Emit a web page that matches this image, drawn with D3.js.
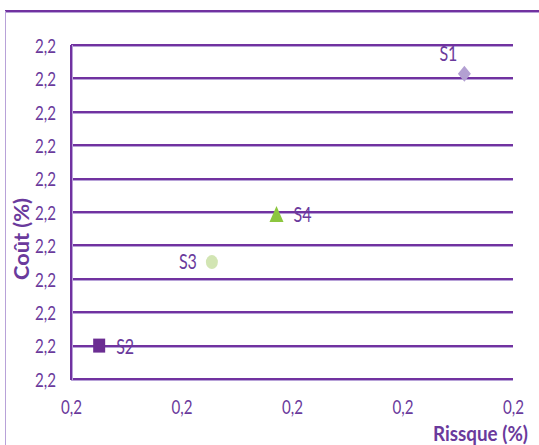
<!DOCTYPE html>
<html><head><meta charset="utf-8">
<script src="https://cdn.jsdelivr.net/npm/d3@7"></script>
<style>body{margin:0;background:#fff}svg{display:block}text{font-family:Lato,"Open Sans",sans-serif}</style>
</head><body><svg id="c" width="539" height="445"></svg>
<script>
const names = ["S1","S2","S3","S4"];
const risk = [0.2312,0.1651,0.1855,0.1972];
const cost = [2.2331,2.1680,2.1880,2.1995];
const shapes = ["diamond","square","circle","triangle"];
const colors = ["#b3a0d2","#6b2d92","#d2e5b3","#8cc63f"];
const labelPos = ["above","right","left","right"];
const xTicks = [0.16,0.18,0.20,0.22,0.24];
const yTicks = [2.16,2.168,2.176,2.184,2.192,2.2,2.208,2.216,2.224,2.232,2.24];
const xTitle = "Rissque (%)", yTitle = "Coût (%)";

const svg = d3.select("#c");
const purple = "#7132a0", light = "#b8a2d8", txt = "#6a3a9c";
const x = d3.scaleLinear().domain([0.16,0.24]).range([71,513]);
const y = d3.scaleLinear().domain([2.16,2.24]).range([379,45]);
const fmt = v => v.toFixed(1).replace(".", ",");

// outer frame
svg.append("line").attr("x1",5).attr("x2",539).attr("y1",11).attr("y2",11).attr("stroke",purple).attr("stroke-width",2);
svg.append("line").attr("x1",5).attr("x2",539).attr("y1",12.5).attr("y2",12.5).attr("stroke",light).attr("stroke-width",1);
svg.append("line").attr("x1",5.5).attr("x2",5.5).attr("y1",11).attr("y2",445).attr("stroke",light).attr("stroke-width",1);

// gridlines
yTicks.forEach(t=>{
  const yy = Math.round(y(t));
  svg.append("line").attr("x1",71).attr("x2",513).attr("y1",yy).attr("y2",yy).attr("stroke",purple).attr("stroke-width",2);
  svg.append("line").attr("x1",71).attr("x2",513).attr("y1",yy+1.5).attr("y2",yy+1.5).attr("stroke",light).attr("stroke-width",1);
});
// y axis line
svg.append("line").attr("x1",71).attr("x2",71).attr("y1",45).attr("y2",380).attr("stroke",purple).attr("stroke-width",2);
svg.append("line").attr("x1",72.5).attr("x2",72.5).attr("y1",45).attr("y2",380).attr("stroke",light).attr("stroke-width",1);

// axis labels
const yAxis = d3.axisLeft(y).tickValues(yTicks).tickFormat(fmt).tickSize(0).tickPadding(15);
const ga = svg.append("g").attr("transform","translate(71,0)").call(yAxis);
ga.select(".domain").remove();
ga.selectAll("text").attr("font-size",20).attr("fill",txt).attr("font-family","Lato,sans-serif")
  .attr("dy","0.36em").attr("textLength",21).attr("lengthAdjust","spacingAndGlyphs");

const xAxis = d3.axisBottom(x).tickValues(xTicks).tickFormat(fmt).tickSize(0);
const gx = svg.append("g").attr("transform","translate(0,379)").call(xAxis);
gx.select(".domain").remove();
gx.selectAll("text").attr("font-size",20).attr("fill",txt).attr("font-family","Lato,sans-serif")
  .attr("y",35).attr("dy",0).attr("textLength",21).attr("lengthAdjust","spacingAndGlyphs");

// titles
svg.append("text").attr("x",528).attr("y",441).attr("text-anchor","end").attr("font-size",20).attr("font-weight","bold").attr("fill",txt)
  .attr("textLength",95).attr("lengthAdjust","spacingAndGlyphs").text(xTitle);
svg.append("text").attr("transform","translate(29,239) rotate(-90)").attr("text-anchor","middle").attr("font-size",21).attr("font-weight","bold").attr("fill",txt)
  .attr("textLength",82).attr("lengthAdjust","spacingAndGlyphs").text(yTitle);

// marker shapes (w x h)
const dims = {diamond:[13,16], square:[12,14], circle:[12,14], triangle:[14,16]};
function shapePath(s){
  const [w,h] = dims[s], p = d3.path();
  if(s==="diamond"){p.moveTo(0,-h/2);p.lineTo(w/2,0);p.lineTo(0,h/2);p.lineTo(-w/2,0);p.closePath();}
  else if(s==="square"){p.rect(-w/2,-h/2,w,h);}
  else if(s==="triangle"){p.moveTo(0,-h/2);p.lineTo(w/2,h/2);p.lineTo(-w/2,h/2);p.closePath();}
  return p.toString();
}
names.forEach((n,i)=>{
  const px = x(risk[i]), py = y(cost[i]), s = shapes[i];
  if(s==="circle"){
    svg.append("ellipse").attr("cx",px).attr("cy",py).attr("rx",dims[s][0]/2).attr("ry",dims[s][1]/2).attr("fill",colors[i]);
  } else {
    svg.append("path").attr("d",shapePath(s)).attr("transform",`translate(${px},${py})`).attr("fill",colors[i]);
  }
  const t = svg.append("text").attr("font-size",21).attr("fill",txt).attr("textLength",18).attr("lengthAdjust","spacingAndGlyphs").text(n);
  if(labelPos[i]==="above") t.attr("x",px-16).attr("y",py-13).attr("text-anchor","middle");
  else if(labelPos[i]==="right") t.attr("x",px+17).attr("y",py+8).attr("text-anchor","start");
  else t.attr("x",px-15).attr("y",py+7).attr("text-anchor","end");
});
</script></body></html>
